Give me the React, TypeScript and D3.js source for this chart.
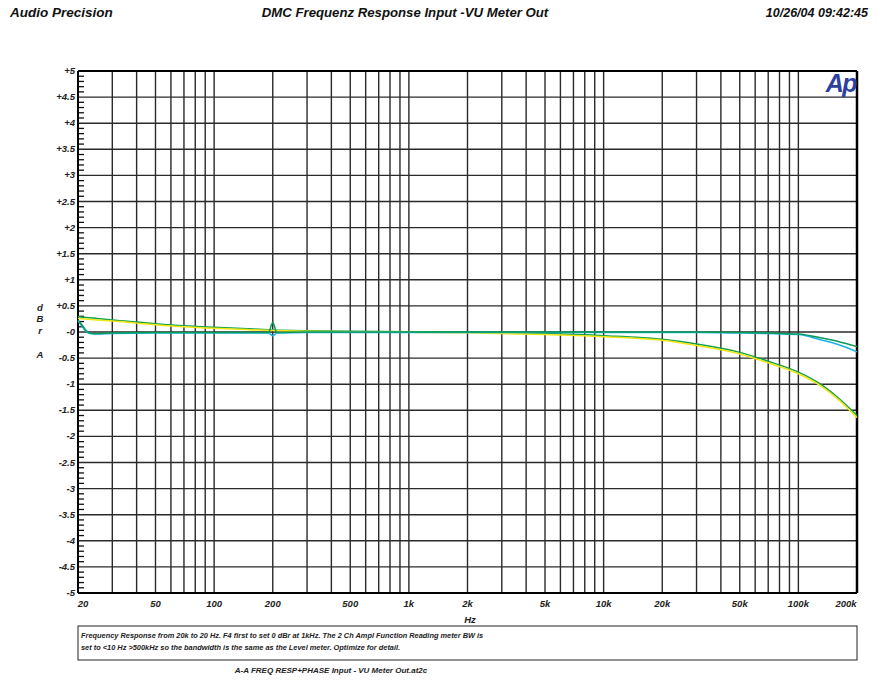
import React from "react";
import * as d3 from "d3";

const W = 878;
const H = 680;

// Axis definitions
const yTickValues = [5, 4.5, 4, 3.5, 3, 2.5, 2, 1.5, 1, 0.5, 0, -0.5, -1, -1.5, -2, -2.5, -3, -3.5, -4, -4.5, -5];
const yTickLabels = ["+5", "+4.5", "+4", "+3.5", "+3", "+2.5", "+2", "+1.5", "+1", "+0.5", "-0", "-0.5", "-1", "-1.5", "-2", "-2.5", "-3", "-3.5", "-4", "-4.5", "-5"];
const xLabelValues = [20, 50, 100, 200, 500, 1000, 2000, 5000, 10000, 20000, 50000, 100000, 200000];
const xLabelTexts = ["20", "50", "100", "200", "500", "1k", "2k", "5k", "10k", "20k", "50k", "100k", "200k"];

// Channel A traces (roll off to about -1.6 dB)
const freqA = [20, 25, 30, 40, 50, 70, 100, 150, 200, 300, 500, 1000, 2000, 5000, 10000, 20000, 30000, 50000, 70000, 100000, 130000, 160000, 200000];
const yellowA = [0.26, 0.23, 0.21, 0.17, 0.14, 0.1, 0.07, 0.045, 0.03, 0.015, 0.005, -0.005, -0.015, -0.05, -0.09, -0.16, -0.26, -0.42, -0.59, -0.8, -1.03, -1.29, -1.64];
const greenA = [0.29, 0.26, 0.23, 0.19, 0.16, 0.12, 0.09, 0.06, 0.04, 0.025, 0.015, 0.005, -0.005, -0.03, -0.07, -0.14, -0.23, -0.39, -0.56, -0.77, -1.0, -1.26, -1.6];

// Channel B traces (roll off to about -0.3 dB)
const freqB = [20, 21, 22, 23, 25, 30, 50, 100, 190, 200, 210, 300, 1000, 10000, 30000, 50000, 70000, 100000, 130000, 160000, 200000];
const greenB = [0.23, 0.13, 0.03, -0.02, -0.03, -0.02, -0.01, -0.01, -0.01, 0.18, -0.01, 0, 0, 0, 0, -0.01, -0.02, -0.04, -0.11, -0.18, -0.28];
const cyanB = [0.21, 0.11, 0.01, -0.03, -0.04, -0.03, -0.02, -0.02, -0.02, -0.07, -0.02, -0.01, -0.01, -0.01, -0.01, -0.02, -0.03, -0.05, -0.15, -0.24, -0.38];

const FONT = "'Liberation Sans', Arial, sans-serif";

export default function App() {
  const left = 78;
  const right = 857;
  const top = 71;
  const bottom = 593;

  const x = d3.scaleLog().domain([20, 200000]).range([left, right]);
  const y = d3.scaleLinear().domain([-5, 5]).range([bottom, top]);

  const vGrid: number[] = [];
  for (let dec = 10; dec <= 100000; dec *= 10) {
    for (let m = 1; m <= 9; m++) {
      const f = dec * m;
      if (f > 20 && f < 200000) vGrid.push(f);
    }
  }
  const minorY = d3.range(-50, 51).map((v) => v / 10).filter((v) => Math.abs(v * 2 - Math.round(v * 2)) > 1e-6);

  const line = (fs: number[], vs: number[]) =>
    d3
      .line<number>()
      .x((_, i) => x(fs[i]))
      .y((d) => y(d))
      .curve(d3.curveMonotoneX)(vs) || "";

  return (
    <svg width={W} height={H} style={{ display: "block", position: "absolute", left: 0, top: 0 }} fontFamily={FONT}>
      <rect x={0} y={0} width={W} height={H} fill="#fff" />
      {/* header */}
      <g fontWeight="bold" fontStyle="italic" fill="#111">
        <text x={10} y={17} fontSize={13.5}>Audio Precision</text>
        <text x={405} y={17} textAnchor="middle" fontSize={13.2}>DMC Frequenz Response Input -VU Meter Out</text>
        <text x={868} y={17} textAnchor="end" fontSize={12.5}>10/26/04 09:42:45</text>
      </g>

      {/* grid */}
      <g stroke="#2a2a2a" strokeWidth={1.4}>
        {vGrid.map((f) => (
          <line key={"v" + f} x1={x(f)} x2={x(f)} y1={top} y2={bottom} />
        ))}
        {yTickValues.map((v) => (
          <line key={"h" + v} x1={left} x2={right} y1={y(v)} y2={y(v)} />
        ))}
      </g>
      {/* minor ticks */}
      <g stroke="#111" strokeWidth={1.3}>
        {minorY.map((v) => (
          <line key={"m" + v} x1={left} x2={left + 6} y1={y(v)} y2={y(v)} />
        ))}
      </g>
      {/* frame */}
      <g stroke="#000" fill="none">
        <line x1={left} x2={right} y1={top} y2={top} strokeWidth={2} />
        <line x1={left} x2={right} y1={bottom} y2={bottom} strokeWidth={2} />
        <line x1={left} x2={left} y1={top} y2={bottom} strokeWidth={2} />
        <line x1={right} x2={right} y1={top} y2={bottom} strokeWidth={2.5} />
      </g>

      {/* traces */}
      <g fill="none" strokeWidth={1.5} strokeLinejoin="round">
        <path d={line(freqA, greenA)} stroke="#12a04c" />
        <path d={line(freqA, yellowA)} stroke="#f2e614" />
        <path d={line(freqB, cyanB)} stroke="#1ab2e8" />
        <path d={line(freqB, greenB)} stroke="#0a9a5a" />
      </g>

      {/* Ap logo */}
      <text x={856} y={92} textAnchor="end" fontSize={25} fontWeight="bold" fontStyle="italic" fill="#2f3f9f" letterSpacing={-1.5}>
        Ap
      </text>

      {/* y labels */}
      <g fontWeight="bold" fontStyle="italic" fontSize={9.5} fill="#222" textAnchor="end">
        {yTickValues.map((v, i) => (
          <text key={"yl" + v} x={75} y={y(v) + 3}>
            {yTickLabels[i]}
          </text>
        ))}
      </g>
      <g fontWeight="bold" fontStyle="italic" fontSize={9.5} fill="#222" textAnchor="middle">
        <text x={40} y={311}>d</text>
        <text x={40} y={322}>B</text>
        <text x={40} y={334}>r</text>
        <text x={40} y={358}>A</text>
      </g>

      {/* x labels */}
      <g fontWeight="bold" fontStyle="italic" fontSize={9.5} fill="#222" textAnchor="middle">
        {xLabelValues.map((f, i) => (
          <text key={"xl" + f} x={x(f) + (i === 0 ? 5 : i === xLabelValues.length - 1 ? -11 : 0)} y={607}>
            {xLabelTexts[i]}
          </text>
        ))}
        <text x={470} y={623}>Hz</text>
      </g>

      {/* comment box */}
      <rect x={78} y={626} width={779} height={34} fill="none" stroke="#222" strokeWidth={1} />
      <g fontWeight="bold" fontStyle="italic" fontSize={7.4} fill="#222">
        <text x={81} y={638}>
          Frequency Response from 20k to 20 Hz.  F4 first to set 0 dBr at 1kHz.  The 2 Ch Ampl Function Reading meter BW is
        </text>
        <text x={81} y={650}>
          set to &lt;10 Hz  &gt;500kHz so the bandwidth is the same as the Level meter.  Optimize for detail.
        </text>
      </g>
      <text x={331} y={673} textAnchor="middle" fontWeight="bold" fontStyle="italic" fontSize={8} fill="#222">
        A-A FREQ RESP+PHASE Input - VU Meter Out.at2c
      </text>
    </svg>
  );
}
